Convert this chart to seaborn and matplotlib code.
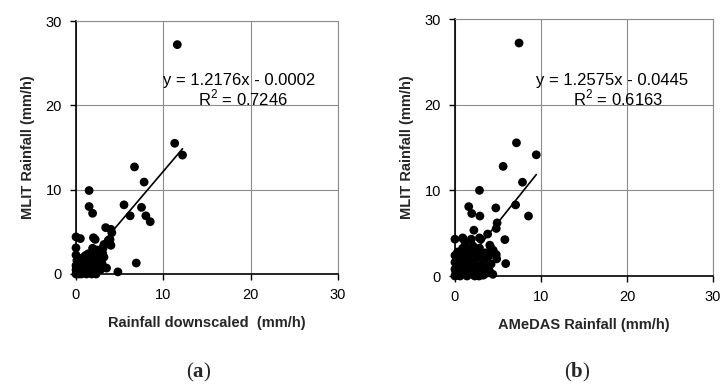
import matplotlib
matplotlib.use("Agg")
import matplotlib.pyplot as plt
import seaborn as sns
import numpy as np
import pandas as pd

# ---------------- data ----------------
# Panel (a): Rainfall downscaled vs MLIT rainfall (mm/h)
a_x = [11.6, 11.3, 12.2, 6.7, 7.8, 1.5, 5.5, 7.5, 1.5, 1.9, 6.2, 8.0, 8.5, 3.4, 4.0,
       4.1, 3.9, 0.0, 0.5, 2.0, 2.2, 3.7, 4.0, 3.2, 3.1, 1.9, 2.4, 2.1, 3.05, 0.0,
       0.95, 1.5, 6.9, 4.8, 3.5,
       0.0, 0.1, 0.2, 0.3, 0.5, 0.7, 0.8, 1.0, 1.2, 1.3, 1.5, 1.7, 1.9, 2.0, 2.2,
       2.4, 2.6, 2.8, 2.5, 0.4, 0.1, 0.6, 0.9, 1.1, 0.0, 0.2, 1.6, 1.8, 2.3, 2.9,
       3.0, 0.3, 1.4, 0.0, 0.6, 1.0, 2.1, 3.2, 0.0]
a_y = [27.2, 15.5, 14.1, 12.7, 10.9, 9.9, 8.2, 7.9, 8.0, 7.2, 6.9, 6.9, 6.2, 5.5, 5.3,
       4.9, 4.1, 4.4, 4.2, 4.3, 4.1, 4.0, 3.4, 3.5, 3.05, 3.05, 2.85, 2.65, 2.45, 2.25,
       2.05, 1.86, 1.3, 0.25, 0.7,
       0.0, 0.2, 0.5, 0.0, 0.3, 0.1, 0.8, 0.4, 0.0, 1.0, 0.6, 0.2, 1.3, 0.9, 0.3,
       1.6, 1.1, 0.5, 2.0, 1.2, 1.6, 1.8, 1.4, 2.2, 1.0, 0.9, 1.5, 0.0, 0.0, 1.8,
       1.2, 1.9, 2.4, 0.5, 0.0, 1.0, 1.9, 2.0, 3.1]

# Panel (b): AMeDAS rainfall vs MLIT rainfall (mm/h)
b_x = [7.45, 7.15, 9.45, 5.6, 7.85, 2.85, 1.6, 1.95, 2.9, 4.75, 7.05, 8.55, 4.9, 4.8,
       2.2, 3.8, 2.85, 4.05, 4.15, 0.0, 0.9, 1.9, 5.8, 0.9, 2.85, 0.0, 3.1, 4.8, 4.85,
       5.9, 3.6, 0.97, 3.0, 0.78, 2.7, 4.45,
       0.0, 0.1, 0.3, 0.5, 0.2, 0.8, 1.0, 1.2, 1.4, 1.6, 1.8, 2.0, 2.2, 2.4, 2.6, 2.8,
       3.0, 3.2, 3.4, 3.7, 4.0, 4.2, 0.0, 0.0, 0.4, 0.7, 1.1, 1.3, 1.9, 2.5, 2.9, 3.5,
       0.6, 1.5, 2.3, 3.3, 0.9, 1.7, 2.1, 1.2, 0.3, 4.4, 3.9]
b_y = [27.2, 15.55, 14.15, 12.8, 10.95, 10.0, 8.1, 7.3, 7.0, 7.95, 8.3, 7.0, 6.2, 5.55,
       5.35, 4.9, 4.45, 3.6, 3.35, 4.3, 4.45, 4.3, 4.25, 3.25, 3.25, 2.4, 2.15, 2.5, 2.0,
       1.45, 0.3, 4.3, 4.3, 3.0, 3.0, 3.0,
       0.0, 0.4, 0.1, 0.8, 1.2, 0.2, 1.0, 0.5, 0.0, 1.4, 0.7, 0.2, 1.8, 1.1, 0.4, 0.0,
       1.3, 0.8, 1.9, 1.0, 0.6, 1.4, 0.8, 1.6, 2.0, 1.5, 2.3, 1.8, 2.5, 2.2, 2.6, 2.7,
       0.0, 0.3, 0.0, 0.1, 2.8, 3.0, 3.5, 3.8, 2.8, 0.2, 2.3]

# trend lines (slope, intercept) and R^2 from the figure
a_fit = (1.2176, -0.0002)
b_fit = (1.2575, -0.0445)
a_eq = "y = 1.2176x - 0.0002"
a_r2 = "R$^2$ = 0.7246"
b_eq = "y = 1.2575x - 0.0445"
b_r2 = "R$^2$ = 0.6163"

ticks = [0, 10, 20, 30]
x_labels = ["Rainfall downscaled  (mm/h)", "AMeDAS Rainfall (mm/h)"]
y_label = "MLIT Rainfall (mm/h)"
panel_tags = ["a", "b"]

# ---------------- plot ----------------
sns.set_theme(style="white")
plt.rcParams["font.family"] = ["Liberation Sans", "DejaVu Sans"]
plt.rcParams["mathtext.fontset"] = "custom"
plt.rcParams["mathtext.rm"] = "Liberation Sans"
plt.rcParams["mathtext.bf"] = "Liberation Serif:bold"

fig = plt.figure(figsize=(7.21, 3.87), dpi=100)
ax_a = fig.add_axes([0.1054, 0.292, 0.3634, 0.6537])
ax_b = fig.add_axes([0.631, 0.2868, 0.358, 0.664])

panels = [
    (ax_a, a_x, a_y, a_fit, a_eq, a_r2, (10.0, 22.9), (14.0, 20.9), 199),
    (ax_b, b_x, b_y, b_fit, b_eq, b_r2, (9.4, 22.8), (13.7, 20.8), 577),
]

for i, (ax, xs, ys, fit, eq, r2, eq_pos, r2_pos, tag_x) in enumerate(panels):
    df = pd.DataFrame({"x": xs, "y": ys})
    ax.set_xlim(0, 30)
    ax.set_ylim(0, 30)
    ax.set_xticks(ticks)
    ax.set_yticks(ticks)
    ax.grid(True, color="#8c8c8c", linewidth=0.8)
    ax.set_axisbelow(True)
    sns.scatterplot(data=df, x="x", y="y", ax=ax, color="black", s=40,
                    edgecolor="none", clip_on=False, zorder=3, legend=False)
    lx = np.array([df["x"].min(), df["x"].max()])
    ax.plot(lx, fit[0] * lx + fit[1], color="black", linewidth=1.2, zorder=4)
    ax.text(eq_pos[0], eq_pos[1], eq, ha="left", va="center", fontsize=12,
            color="black", zorder=5)
    ax.text(r2_pos[0], r2_pos[1], r2, ha="left", va="center", fontsize=12,
            color="black", zorder=5)
    for side in ["top", "right"]:
        ax.spines[side].set_color("#8c8c8c")
        ax.spines[side].set_linewidth(0.8)
    for side in ["left", "bottom"]:
        ax.spines[side].set_color("black")
        ax.spines[side].set_linewidth(1.2)
    ax.tick_params(axis="both", direction="out", length=4, width=1, color="black",
                   labelsize=10.5, pad=6, labelcolor="black",
                   bottom=True, left=True)
    ax.set_xlabel(x_labels[i], fontsize=10.5, fontweight="bold", labelpad=10)
    ax.set_ylabel(y_label, fontsize=10.5, fontweight="bold", labelpad=8)
    fig.text(tag_x / 721, 1 - 372 / 387, r"($\mathbf{" + panel_tags[i] + r"}$)",
             ha="center", va="center", fontsize=15, fontfamily="Liberation Serif")

fig.savefig("out.png", dpi=100)
